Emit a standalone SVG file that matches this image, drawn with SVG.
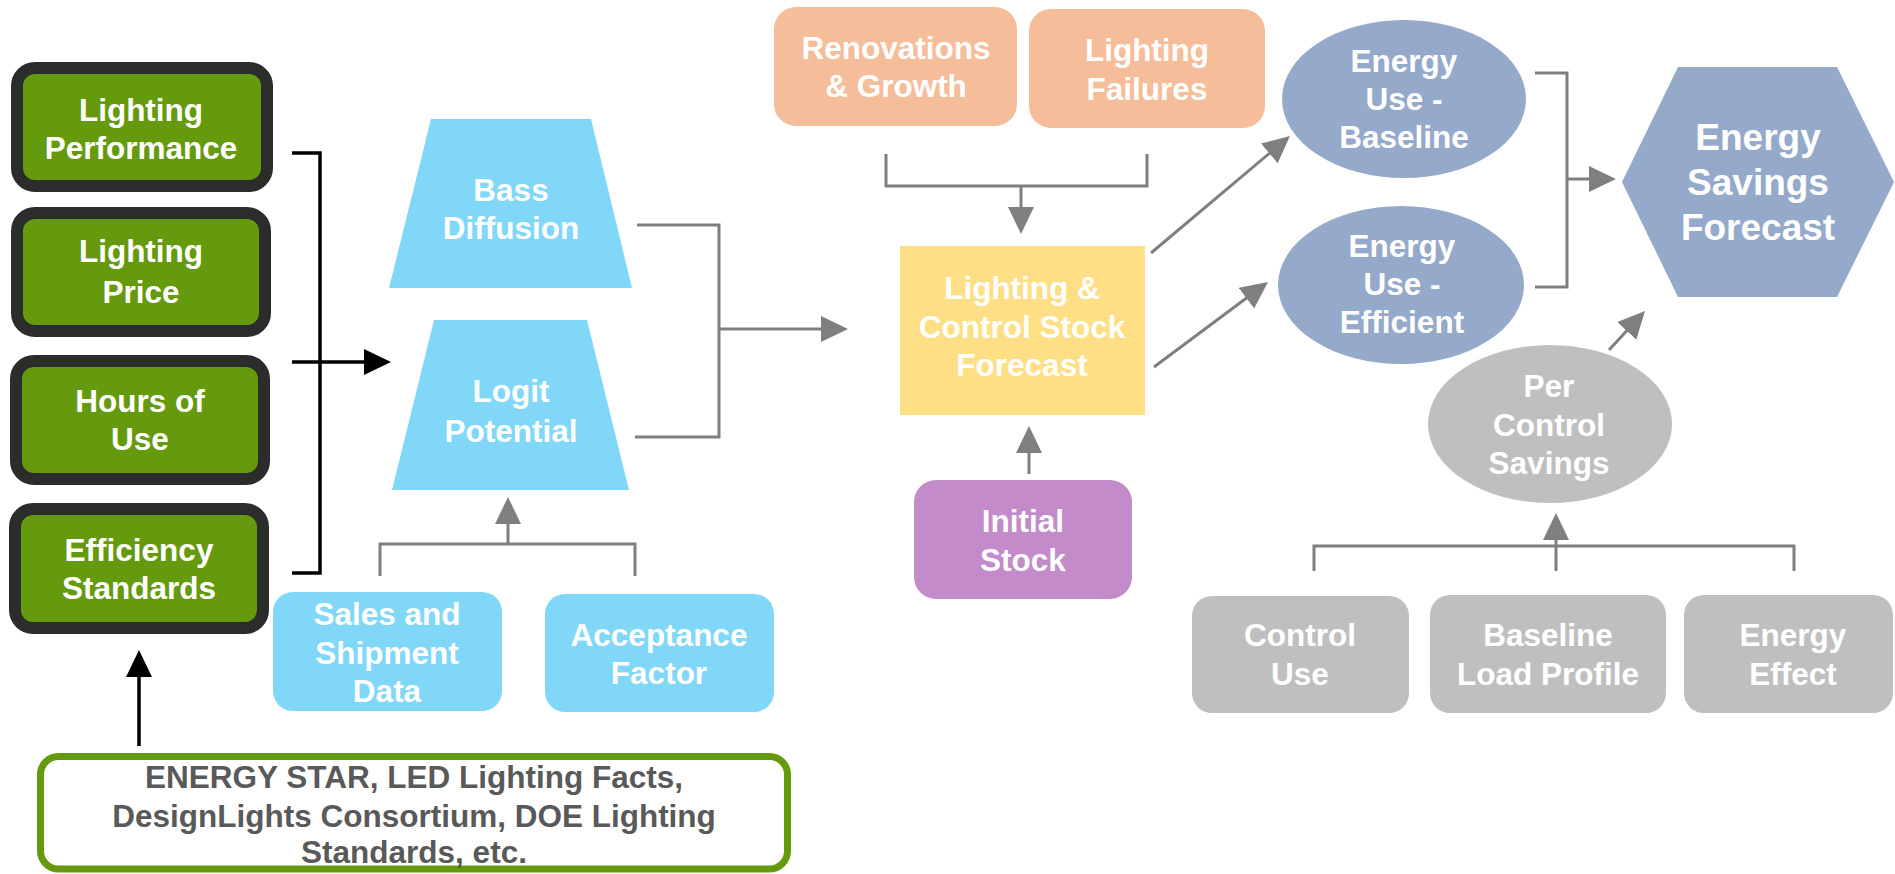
<svg xmlns="http://www.w3.org/2000/svg" width="1895" height="874" viewBox="0 0 1895 874">
  <defs>
    <style>
      text { font-family: "Liberation Sans", Arial, sans-serif; font-weight: bold; font-size: 31.5px; fill: #ffffff; text-anchor: middle; }
      .input { fill: #669a0e; stroke: #2b2d2b; stroke-width: 12; }
      .model { fill: #80d7f7; }
      .driver { fill: #f5bd99; }
      .stock { fill: #ffdf85; }
      .initial { fill: #c38bc9; }
      .energy { fill: #95a9ca; }
      .savings { fill: #bfbfbf; }
      .source { fill: #ffffff; stroke: #669a0e; stroke-width: 7; }
      .source-text { fill: #595959; }
      .big { font-size: 37px; }
      .wire { fill: none; stroke: #7f7f7f; stroke-width: 3; }
      .wire-dark { fill: none; stroke: #000000; stroke-width: 3.5; }
    </style>
    <marker id="arrow-gray" markerUnits="userSpaceOnUse" markerWidth="28" markerHeight="28" refX="14" refY="13" orient="auto">
      <path d="M0,0 L27,13 L0,26 z" fill="#7f7f7f"/>
    </marker>
    <marker id="arrow-black" markerUnits="userSpaceOnUse" markerWidth="28" markerHeight="28" refX="14" refY="13" orient="auto">
      <path d="M0,0 L27,13 L0,26 z" fill="#000000"/>
    </marker>
  </defs>

  <rect width="1895" height="874" fill="#ffffff"/>

  <!-- connectors -->
  <g id="connectors">
    <path class="wire-dark" d="M292,153 H320 V573 H292"/>
    <path class="wire-dark" d="M292,362 H378" marker-end="url(#arrow-black)"/>
    <path class="wire-dark" d="M139,746 V663" marker-end="url(#arrow-black)"/>

    <path class="wire" d="M637,225 H719 V437 H635"/>
    <path class="wire" d="M719,329 H835" marker-end="url(#arrow-gray)"/>

    <path class="wire" d="M380,576 V544 H635 V576"/>
    <path class="wire" d="M508,544 V510" marker-end="url(#arrow-gray)"/>

    <path class="wire" d="M886,154 V186 H1147 V154"/>
    <path class="wire" d="M1021,186 V221" marker-end="url(#arrow-gray)"/>

    <path class="wire" d="M1029,474 V439" marker-end="url(#arrow-gray)"/>

    <path class="wire" d="M1151,253 L1280,144.4" marker-end="url(#arrow-gray)"/>
    <path class="wire" d="M1154,367 L1257.6,289.8" marker-end="url(#arrow-gray)"/>

    <path class="wire" d="M1535,73 H1567 V287 H1535"/>
    <path class="wire" d="M1567,179 H1603" marker-end="url(#arrow-gray)"/>

    <path class="wire" d="M1609,350 L1636.2,320.6" marker-end="url(#arrow-gray)"/>

    <path class="wire" d="M1314,571 V546 H1794 V571"/>
    <path class="wire" d="M1556,571 V526" marker-end="url(#arrow-gray)"/>
  </g>

  <!-- input boxes -->
  <g id="lighting-performance">
    <rect class="input" x="17" y="68" width="250" height="118" rx="18"/>
    <text x="141"><tspan x="141" y="121">Lighting</tspan><tspan x="141" y="159">Performance</tspan></text>
  </g>
  <g id="lighting-price">
    <rect class="input" x="17" y="213" width="248" height="118" rx="18"/>
    <text x="141"><tspan x="141" y="262">Lighting</tspan><tspan x="141" y="303">Price</tspan></text>
  </g>
  <g id="hours-of-use">
    <rect class="input" x="16" y="361" width="248" height="118" rx="18"/>
    <text x="140"><tspan x="140" y="412">Hours of</tspan><tspan x="140" y="450">Use</tspan></text>
  </g>
  <g id="efficiency-standards">
    <rect class="input" x="15" y="509" width="248" height="119" rx="18"/>
    <text x="139"><tspan x="139" y="561">Efficiency</tspan><tspan x="139" y="599">Standards</tspan></text>
  </g>

  <!-- source programs -->
  <g id="sources">
    <rect class="source" x="40.5" y="756.5" width="747" height="112.5" rx="18"/>
    <text class="source-text"><tspan x="414" y="788">ENERGY STAR, LED Lighting Facts,</tspan><tspan x="414" y="827">DesignLights Consortium, DOE Lighting</tspan><tspan x="414" y="863">Standards, etc.</tspan></text>
  </g>

  <!-- adoption models -->
  <g id="bass-diffusion">
    <polygon class="model" points="431,119 591,119 632,288 389,288"/>
    <text><tspan x="511" y="201">Bass</tspan><tspan x="511" y="239">Diffusion</tspan></text>
  </g>
  <g id="logit-potential">
    <polygon class="model" points="434,320 587,320 629,490 392,490"/>
    <text><tspan x="511" y="402">Logit</tspan><tspan x="511" y="442">Potential</tspan></text>
  </g>
  <g id="sales-shipment">
    <rect class="model" x="273" y="592" width="229" height="119" rx="20"/>
    <text><tspan x="387" y="625">Sales and</tspan><tspan x="387" y="664">Shipment</tspan><tspan x="387" y="702">Data</tspan></text>
  </g>
  <g id="acceptance-factor">
    <rect class="model" x="545" y="594" width="229" height="118" rx="20"/>
    <text><tspan x="659" y="646">Acceptance</tspan><tspan x="659" y="684">Factor</tspan></text>
  </g>

  <!-- stock drivers -->
  <g id="renovations-growth">
    <rect class="driver" x="774" y="7" width="243" height="119" rx="22"/>
    <text><tspan x="896" y="59">Renovations</tspan><tspan x="896" y="97">&amp; Growth</tspan></text>
  </g>
  <g id="lighting-failures">
    <rect class="driver" x="1029" y="9" width="236" height="119" rx="22"/>
    <text><tspan x="1147" y="61">Lighting</tspan><tspan x="1147" y="100">Failures</tspan></text>
  </g>
  <g id="stock-forecast">
    <rect class="stock" x="900" y="246" width="245" height="169"/>
    <text><tspan x="1022" y="299">Lighting &amp;</tspan><tspan x="1022" y="338">Control Stock</tspan><tspan x="1022" y="376">Forecast</tspan></text>
  </g>
  <g id="initial-stock">
    <rect class="initial" x="914" y="480" width="218" height="119" rx="22"/>
    <text><tspan x="1023" y="532">Initial</tspan><tspan x="1023" y="571">Stock</tspan></text>
  </g>

  <!-- energy use -->
  <g id="energy-baseline">
    <ellipse class="energy" cx="1404" cy="99" rx="122" ry="79"/>
    <text><tspan x="1404" y="72">Energy</tspan><tspan x="1404" y="110">Use -</tspan><tspan x="1404" y="148">Baseline</tspan></text>
  </g>
  <g id="energy-efficient">
    <ellipse class="energy" cx="1401" cy="285" rx="123" ry="79"/>
    <text><tspan x="1402" y="257">Energy</tspan><tspan x="1402" y="295">Use -</tspan><tspan x="1402" y="333">Efficient</tspan></text>
  </g>
  <g id="savings-forecast">
    <polygon class="energy" points="1678,67 1837,67 1894,182 1837,297 1678,297 1622,182"/>
    <text class="big"><tspan x="1758" y="150">Energy</tspan><tspan x="1758" y="195">Savings</tspan><tspan x="1758" y="240">Forecast</tspan></text>
  </g>

  <!-- control savings -->
  <g id="per-control-savings">
    <ellipse class="savings" cx="1550" cy="424" rx="122" ry="79"/>
    <text><tspan x="1549" y="397">Per</tspan><tspan x="1549" y="436">Control</tspan><tspan x="1549" y="474">Savings</tspan></text>
  </g>
  <g id="control-use">
    <rect class="savings" x="1192" y="596" width="217" height="117" rx="20"/>
    <text><tspan x="1300" y="646">Control</tspan><tspan x="1300" y="685">Use</tspan></text>
  </g>
  <g id="baseline-load-profile">
    <rect class="savings" x="1430" y="595" width="236" height="118" rx="20"/>
    <text><tspan x="1548" y="646">Baseline</tspan><tspan x="1548" y="685">Load Profile</tspan></text>
  </g>
  <g id="energy-effect">
    <rect class="savings" x="1684" y="595" width="209" height="118" rx="20"/>
    <text><tspan x="1793" y="646">Energy</tspan><tspan x="1793" y="685">Effect</tspan></text>
  </g>
</svg>
